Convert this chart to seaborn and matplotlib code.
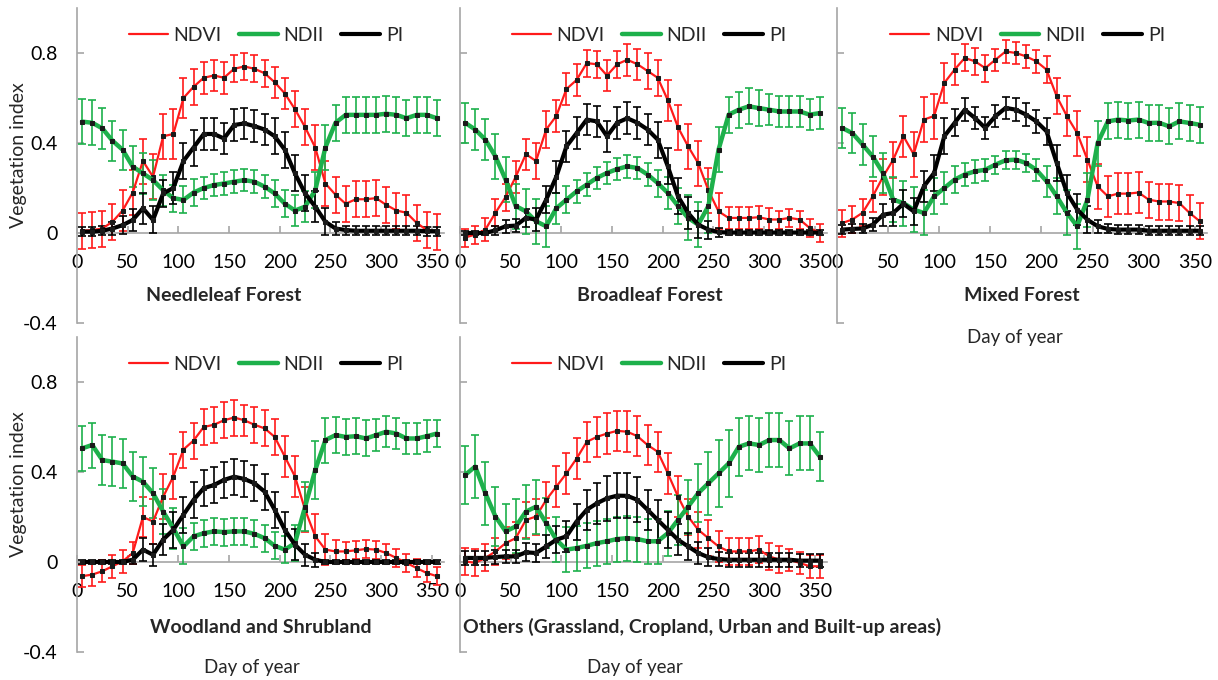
import matplotlib
matplotlib.use("Agg")
import matplotlib.pyplot as plt
import seaborn as sns
import pandas as pd
from matplotlib.lines import Line2D

DAYS = [5, 15, 25, 35, 45, 55, 65, 75, 85, 95, 105, 115, 125, 135, 145, 155, 165, 175,
        185, 195, 205, 215, 225, 235, 245, 255, 265, 275, 285, 295, 305, 315, 325, 335, 345, 355]
SERIES = ["NDVI", "NDII", "PI"]
XTICKS = [0, 50, 100, 150, 200, 250, 300, 350]
YTICKS = [-0.4, 0, 0.4, 0.8]
YTICKLABELS = ["-0.4", "0", "0.4", "0.8"]
TITLES = ["Needleleaf Forest", "Broadleaf Forest", "Mixed Forest",
          "Woodland and Shrubland", "Others (Grassland, Cropland, Urban and Built-up areas)"]

# Needleleaf Forest
NF_NDVI = [0.01, 0.013, 0.02, 0.05, 0.10, 0.18, 0.32, 0.25, 0.43, 0.44, 0.60, 0.65, 0.69, 0.70, 0.69, 0.73, 0.74, 0.73,
           0.71, 0.67, 0.62, 0.55, 0.47, 0.38, 0.22, 0.17, 0.13, 0.15, 0.15, 0.155, 0.125, 0.10, 0.09, 0.045, 0.013, 0.006]
NF_NDII = [0.495, 0.49, 0.465, 0.41, 0.37, 0.295, 0.265, 0.235, 0.19, 0.155, 0.147, 0.18, 0.2, 0.213, 0.22, 0.228, 0.235, 0.228,
           0.206, 0.176, 0.13, 0.10, 0.117, 0.19, 0.38, 0.49, 0.525, 0.525, 0.525, 0.525, 0.53, 0.525, 0.51, 0.525, 0.525, 0.51]
NF_PI = [0.006, 0.006, 0.01, 0.02, 0.035, 0.058, 0.11, 0.058, 0.176, 0.2, 0.32, 0.38, 0.44, 0.44, 0.42, 0.48, 0.487, 0.475,
         0.46, 0.43, 0.37, 0.265, 0.176, 0.117, 0.05, 0.02, 0.013, 0.01, 0.01, 0.01, 0.01, 0.01, 0.01, 0.01, 0.008, 0.008]
NF_NDVI_ERR = [0.08, 0.08, 0.08, 0.08, 0.09, 0.1, 0.1, 0.1, 0.1, 0.11, 0.09, 0.08, 0.07, 0.07, 0.07, 0.06, 0.06, 0.06,
               0.06, 0.07, 0.07, 0.08, 0.08, 0.1, 0.1, 0.08, 0.08, 0.08, 0.08, 0.08, 0.08, 0.08, 0.08, 0.08, 0.08, 0.08]
NF_NDII_ERR = [0.1, 0.1, 0.09, 0.09, 0.09, 0.09, 0.09, 0.09, 0.07, 0.06, 0.06, 0.06, 0.05, 0.05, 0.05, 0.05, 0.05, 0.05,
               0.05, 0.06, 0.06, 0.07, 0.07, 0.08, 0.1, 0.08, 0.08, 0.08, 0.08, 0.08, 0.08, 0.08, 0.08, 0.08, 0.08, 0.08]
NF_PI_ERR = [0.02, 0.02, 0.02, 0.03, 0.04, 0.05, 0.07, 0.06, 0.06, 0.07, 0.08, 0.08, 0.07, 0.07, 0.07, 0.07, 0.07, 0.07,
             0.07, 0.08, 0.08, 0.08, 0.08, 0.07, 0.06, 0.03, 0.02, 0.02, 0.02, 0.02, 0.02, 0.02, 0.02, 0.02, 0.02, 0.02]

# Broadleaf Forest
BF_NDVI = [-0.02, -0.007, 0.015, 0.09, 0.16, 0.25, 0.35, 0.32, 0.46, 0.52, 0.64, 0.68, 0.755, 0.75, 0.70, 0.75, 0.77, 0.75,
           0.72, 0.69, 0.59, 0.47, 0.385, 0.31, 0.19, 0.096, 0.067, 0.067, 0.067, 0.07, 0.06, 0.06, 0.067, 0.06, 0.022, 0.0]
BF_NDII = [0.49, 0.46, 0.415, 0.34, 0.237, 0.12, 0.096, 0.052, 0.03, 0.11, 0.148, 0.185, 0.215, 0.245, 0.267, 0.284, 0.296, 0.289,
           0.26, 0.222, 0.178, 0.12, 0.067, 0.037, 0.12, 0.37, 0.526, 0.548, 0.563, 0.555, 0.548, 0.54, 0.54, 0.54, 0.526, 0.533]
BF_PI = [0.0, 0.0, 0.0, 0.012, 0.03, 0.033, 0.067, 0.06, 0.148, 0.25, 0.385, 0.444, 0.504, 0.496, 0.43, 0.49, 0.51, 0.49,
         0.46, 0.415, 0.296, 0.163, 0.089, 0.037, 0.015, 0.004, 0.002, 0.002, 0.002, 0.002, 0.002, 0.002, 0.002, 0.002, 0.002, 0.002]
BF_NDVI_ERR = [0.04, 0.04, 0.05, 0.06, 0.06, 0.07, 0.07, 0.08, 0.08, 0.07, 0.07, 0.07, 0.06, 0.06, 0.07, 0.06, 0.07, 0.07,
               0.08, 0.08, 0.09, 0.1, 0.1, 0.1, 0.1, 0.08, 0.05, 0.05, 0.05, 0.05, 0.05, 0.04, 0.04, 0.04, 0.04, 0.04]
BF_NDII_ERR = [0.09, 0.09, 0.09, 0.1, 0.1, 0.1, 0.1, 0.1, 0.09, 0.07, 0.06, 0.05, 0.05, 0.05, 0.05, 0.05, 0.05, 0.05,
               0.05, 0.06, 0.07, 0.08, 0.1, 0.1, 0.12, 0.1, 0.08, 0.08, 0.08, 0.08, 0.07, 0.07, 0.07, 0.07, 0.07, 0.07]
BF_PI_ERR = [0.01, 0.01, 0.01, 0.02, 0.03, 0.03, 0.04, 0.05, 0.06, 0.07, 0.07, 0.07, 0.07, 0.07, 0.07, 0.07, 0.07, 0.07,
             0.07, 0.08, 0.08, 0.08, 0.07, 0.06, 0.04, 0.02, 0.01, 0.01, 0.01, 0.01, 0.01, 0.01, 0.01, 0.01, 0.01, 0.01]

# Mixed Forest
MF_NDVI = [0.044, 0.06, 0.09, 0.163, 0.25, 0.326, 0.43, 0.35, 0.504, 0.52, 0.667, 0.726, 0.778, 0.763, 0.733, 0.77, 0.807, 0.8,
           0.785, 0.763, 0.726, 0.607, 0.519, 0.444, 0.326, 0.207, 0.163, 0.175, 0.175, 0.18, 0.148, 0.14, 0.14, 0.133, 0.089, 0.052]
MF_NDII = [0.467, 0.444, 0.393, 0.34, 0.267, 0.148, 0.133, 0.104, 0.089, 0.163, 0.2, 0.237, 0.26, 0.274, 0.281, 0.304, 0.323, 0.326,
           0.311, 0.281, 0.23, 0.163, 0.089, 0.03, 0.148, 0.4, 0.496, 0.504, 0.5, 0.504, 0.489, 0.49, 0.474, 0.496, 0.489, 0.481]
MF_PI = [0.015, 0.018, 0.02, 0.037, 0.081, 0.089, 0.13, 0.096, 0.207, 0.267, 0.43, 0.489, 0.548, 0.511, 0.467, 0.519, 0.556, 0.548,
         0.526, 0.496, 0.452, 0.311, 0.178, 0.104, 0.059, 0.03, 0.018, 0.015, 0.015, 0.015, 0.01, 0.01, 0.01, 0.01, 0.01, 0.01]
MF_NDVI_ERR = [0.06, 0.06, 0.06, 0.07, 0.08, 0.08, 0.09, 0.1, 0.1, 0.1, 0.09, 0.07, 0.06, 0.06, 0.06, 0.05, 0.05, 0.05,
               0.05, 0.05, 0.06, 0.08, 0.09, 0.1, 0.1, 0.1, 0.09, 0.09, 0.09, 0.09, 0.08, 0.08, 0.08, 0.08, 0.08, 0.08]
MF_NDII_ERR = [0.09, 0.09, 0.09, 0.09, 0.09, 0.1, 0.1, 0.1, 0.1, 0.08, 0.07, 0.06, 0.05, 0.05, 0.05, 0.04, 0.04, 0.04,
               0.04, 0.05, 0.07, 0.08, 0.1, 0.1, 0.12, 0.1, 0.08, 0.08, 0.08, 0.08, 0.08, 0.08, 0.08, 0.08, 0.08, 0.08]
MF_PI_ERR = [0.02, 0.02, 0.02, 0.03, 0.05, 0.06, 0.06, 0.06, 0.07, 0.08, 0.08, 0.06, 0.05, 0.05, 0.05, 0.05, 0.05, 0.05,
             0.05, 0.05, 0.06, 0.08, 0.08, 0.07, 0.06, 0.03, 0.02, 0.02, 0.02, 0.02, 0.02, 0.02, 0.02, 0.02, 0.02, 0.02]

# Woodland and Shrubland
WS_NDVI = [-0.063, -0.056, -0.041, -0.019, 0.003, 0.04, 0.2, 0.18, 0.29, 0.38, 0.5, 0.54, 0.6, 0.61, 0.63, 0.642, 0.63, 0.61,
           0.594, 0.556, 0.468, 0.38, 0.232, 0.114, 0.055, 0.047, 0.047, 0.052, 0.058, 0.055, 0.04, 0.018, -0.004, -0.027, -0.049, -0.063]
WS_NDII = [0.505, 0.52, 0.453, 0.446, 0.438, 0.38, 0.357, 0.306, 0.224, 0.15, 0.069, 0.114, 0.128, 0.136, 0.133, 0.136, 0.136, 0.125,
           0.106, 0.072, 0.055, 0.084, 0.246, 0.409, 0.542, 0.564, 0.556, 0.559, 0.549, 0.564, 0.579, 0.571, 0.549, 0.549, 0.559, 0.571]
WS_PI = [0.0, 0.0, 0.0, 0.0, 0.0, 0.01, 0.055, 0.032, 0.1, 0.143, 0.21, 0.276, 0.328, 0.342, 0.365, 0.379, 0.369, 0.35,
         0.313, 0.232, 0.143, 0.077, 0.032, 0.01, 0.0, 0.0, 0.0, 0.0, 0.0, 0.0, 0.0, 0.0, 0.0, 0.0, 0.0, 0.0]
WS_NDVI_ERR = [0.05, 0.05, 0.05, 0.05, 0.05, 0.05, 0.09, 0.1, 0.1, 0.1, 0.08, 0.08, 0.08, 0.08, 0.08, 0.08, 0.07, 0.08,
               0.08, 0.08, 0.09, 0.09, 0.1, 0.1, 0.07, 0.05, 0.04, 0.04, 0.04, 0.04, 0.04, 0.04, 0.04, 0.04, 0.04, 0.04]
WS_NDII_ERR = [0.1, 0.1, 0.11, 0.11, 0.11, 0.11, 0.11, 0.11, 0.1, 0.09, 0.08, 0.06, 0.06, 0.06, 0.06, 0.06, 0.06, 0.06,
               0.06, 0.06, 0.06, 0.08, 0.11, 0.13, 0.1, 0.08, 0.08, 0.08, 0.08, 0.07, 0.07, 0.07, 0.07, 0.07, 0.07, 0.06]
WS_PI_ERR = [0.01, 0.01, 0.01, 0.01, 0.01, 0.02, 0.05, 0.05, 0.07, 0.08, 0.08, 0.08, 0.08, 0.08, 0.08, 0.08, 0.08, 0.08,
             0.08, 0.08, 0.08, 0.07, 0.05, 0.03, 0.01, 0.01, 0.01, 0.01, 0.01, 0.01, 0.01, 0.01, 0.01, 0.01, 0.01, 0.01]

# Others (Grassland, Cropland, Urban and Built-up areas)
OT_NDVI = [0.003, -0.004, 0.018, 0.047, 0.084, 0.106, 0.187, 0.202, 0.276, 0.335, 0.394, 0.46, 0.534, 0.556, 0.571, 0.583, 0.579, 0.559,
           0.52, 0.49, 0.394, 0.291, 0.202, 0.143, 0.106, 0.069, 0.047, 0.047, 0.047, 0.055, 0.025, 0.01, 0.01, -0.004, -0.019, -0.019]
OT_NDII = [0.387, 0.424, 0.306, 0.202, 0.136, 0.158, 0.224, 0.246, 0.173, 0.099, 0.055, 0.062, 0.072, 0.084, 0.092, 0.102, 0.106, 0.102,
           0.092, 0.092, 0.128, 0.187, 0.246, 0.306, 0.35, 0.394, 0.438, 0.512, 0.527, 0.52, 0.542, 0.542, 0.505, 0.527, 0.527, 0.468]
OT_PI = [0.018, 0.018, 0.018, 0.022, 0.025, 0.025, 0.043, 0.04, 0.069, 0.099, 0.114, 0.18, 0.232, 0.261, 0.283, 0.295, 0.294, 0.276,
         0.232, 0.187, 0.143, 0.099, 0.069, 0.04, 0.021, 0.013, 0.01, 0.01, 0.01, 0.01, 0.01, 0.01, 0.01, 0.006, 0.006, 0.006]
OT_NDVI_ERR = [0.06, 0.06, 0.06, 0.06, 0.07, 0.07, 0.08, 0.08, 0.08, 0.09, 0.09, 0.09, 0.09, 0.09, 0.09, 0.09, 0.09, 0.09,
               0.09, 0.09, 0.09, 0.09, 0.08, 0.08, 0.08, 0.07, 0.06, 0.06, 0.06, 0.06, 0.06, 0.06, 0.05, 0.05, 0.05, 0.05]
OT_NDII_ERR = [0.13, 0.14, 0.14, 0.13, 0.12, 0.12, 0.12, 0.12, 0.11, 0.1, 0.1, 0.1, 0.1, 0.1, 0.1, 0.1, 0.1, 0.1,
               0.1, 0.1, 0.1, 0.11, 0.12, 0.13, 0.14, 0.15, 0.15, 0.13, 0.12, 0.12, 0.12, 0.12, 0.12, 0.12, 0.12, 0.11]
OT_PI_ERR = [0.03, 0.03, 0.03, 0.03, 0.03, 0.03, 0.04, 0.04, 0.05, 0.06, 0.07, 0.08, 0.09, 0.09, 0.1, 0.1, 0.1, 0.1,
             0.09, 0.09, 0.08, 0.07, 0.06, 0.05, 0.04, 0.03, 0.03, 0.03, 0.03, 0.03, 0.03, 0.03, 0.03, 0.03, 0.03, 0.03]

PANEL_DATA = [
    (NF_NDVI, NF_NDII, NF_PI, NF_NDVI_ERR, NF_NDII_ERR, NF_PI_ERR),
    (BF_NDVI, BF_NDII, BF_PI, BF_NDVI_ERR, BF_NDII_ERR, BF_PI_ERR),
    (MF_NDVI, MF_NDII, MF_PI, MF_NDVI_ERR, MF_NDII_ERR, MF_PI_ERR),
    (WS_NDVI, WS_NDII, WS_PI, WS_NDVI_ERR, WS_NDII_ERR, WS_PI_ERR),
    (OT_NDVI, OT_NDII, OT_PI, OT_NDVI_ERR, OT_NDII_ERR, OT_PI_ERR),
]

# ---------------- style ----------------
sns.set_theme(style="white")
plt.rcParams["font.family"] = ["Lato", "DejaVu Sans"]

COLORS = {"NDVI": "#ff1a1a", "NDII": "#1db04b", "PI": "#000000"}
LW = {"NDVI": 1.6, "NDII": 3.2, "PI": 3.0}
SPINE = "#a6a6a6"
FS = 14

W, H = 1218, 680
fig = plt.figure(figsize=(W / 100, H / 100), dpi=100)

# axes rectangles in pixels: (left, top, width, height)
RECTS = [(77, 8, 367, 315), (460, 8, 367, 315), (837, 8, 370, 315),
         (77, 337, 367, 315), (460, 337, 367, 315)]
TITLE_POS = [(0.40, "center"), (0.518, "center"), (0.5, "center"), (0.5, "center"), (0.008, "left")]

for k, (rect, data) in enumerate(zip(RECTS, PANEL_DATA)):
    l, t, w, h = rect
    ax = fig.add_axes([l / W, 1 - (t + h) / H, w / W, h / H])
    ax.set_facecolor("none")
    vals = data[:3]
    errs = data[3:]
    for name, v, e in zip(SERIES, vals, errs):
        ax.errorbar(DAYS, v, yerr=e, fmt="none", ecolor=COLORS[name], elinewidth=1.2,
                    capsize=3.2, capthick=1.2, zorder=2)
    for name, v in zip(SERIES, vals):
        df = pd.DataFrame({"day": DAYS, "value": v})
        sns.lineplot(data=df, x="day", y="value", ax=ax, color=COLORS[name], lw=LW[name],
                     marker="s", markersize=2.6, markerfacecolor="#1a1a1a", markeredgecolor="#1a1a1a",
                     zorder=3, legend=False, solid_joinstyle="round")
    ax.set_xlim(0, 362)
    ax.set_ylim(-0.4, 1.0)
    ax.set_xlabel("")
    ax.set_ylabel("")
    ax.set_xticks(XTICKS)
    ax.set_xticklabels([str(x) for x in XTICKS])
    ax.set_yticks(YTICKS)
    for s in ["top", "right"]:
        ax.spines[s].set_visible(False)
    ax.spines["bottom"].set_position(("data", 0))
    for s in ["left", "bottom"]:
        ax.spines[s].set_color(SPINE)
        ax.spines[s].set_linewidth(1.2)
        ax.spines[s].set_zorder(1)
    ax.tick_params(axis="x", direction="in", length=5, width=1.2, color=SPINE, pad=15,
                   labelsize=FS, labelcolor="black", bottom=True)
    ax.tick_params(axis="y", direction="in", length=5, width=1.2, color=SPINE, pad=14,
                   labelsize=FS, labelcolor="black", left=True)
    if k in (0, 3):
        ax.set_yticklabels(YTICKLABELS)
        ax.set_ylabel("Vegetation index", fontsize=14)
        ax.yaxis.set_label_coords(-0.135, 0.533)
    else:
        ax.set_yticklabels([])
    handles = [Line2D([0], [0], color=COLORS[n], lw=LW[n]) for n in SERIES]
    ax.legend(handles, SERIES, loc="center", bbox_to_anchor=(0.515, 0.914), ncol=3, frameon=False,
              fontsize=FS, handlelength=2.0, handletextpad=0.3, columnspacing=0.9)
    xp, ha = TITLE_POS[k]
    ax.text(xp, 0.087 if k < 3 else 0.078, TITLES[k], transform=ax.transAxes, ha=ha, va="center",
            fontsize=FS, fontweight="bold")

fig.text(1015 / W, 1 - 338 / H, "Day of year", ha="center", va="center", fontsize=13.5)
fig.text(252 / W, 1 - 667 / H, "Day of year", ha="center", va="center", fontsize=13.5)
fig.text(635 / W, 1 - 667 / H, "Day of year", ha="center", va="center", fontsize=13.5)

fig.savefig("out.png", dpi=100)
